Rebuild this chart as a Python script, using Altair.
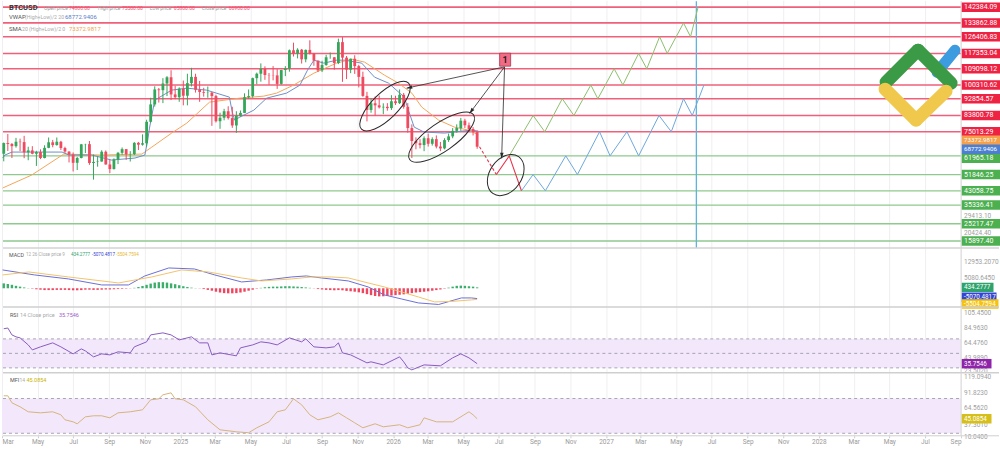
import altair as alt
import pandas as pd

FONT = "Roboto"
W = 960
H_MAIN, H_MACD, H_RSI, H_MFI = 248, 59, 66, 63

# ---------------- weekly BTCUSD candles (thousand USD) ----------------
candle_start = "2024-03-04"
first_open_k = 63.1
close_k = [68.9, 68.4, 67.2, 69.6, 69.4, 63.9, 64.9, 63.1, 64.0, 60.8,
           66.3, 69.3, 67.8, 69.6, 66.2, 64.3, 62.7, 58.2, 60.8, 68.2,
           68.3, 58.1, 58.7, 58.9, 64.2, 57.3, 54.8, 60.0, 63.6, 65.6,
           62.8, 62.9, 69.0, 68.0, 68.8, 80.4, 89.8, 97.9, 97.5, 101.1,
           104.5, 95.2, 93.7, 98.3, 94.5, 101.3, 104.7, 97.7, 96.5, 96.1,
           96.2, 94.3, 80.7, 82.6, 86.1, 82.4, 78.4, 83.7, 85.2, 93.7,
           94.3, 104.0, 106.4, 109.0, 105.7, 105.6, 105.5, 100.9, 108.4, 109.2,
           119.1, 117.3, 119.4, 114.2, 119.3, 117.4, 113.5, 108.2, 111.1, 115.3,
           115.3, 112.2, 123.5, 115.1, 108.6, 114.5, 110.5, 104.7, 94.4, 86.8,
           90.4, 89.3, 88.2, 88.5, 87.8, 91.5, 90.5, 95.0, 88.5, 77.0,
           70.0, 68.8, 67.8, 71.5, 68.5, 71.0, 67.0, 66.0, 70.5, 72.5,
           75.5, 77.0, 81.0, 78.5, 76.5, 74.8, 66.9]
high_k = [69.2, 73.8, 68.9, 71.7, 71.3, 72.8, 66.9, 67.2, 64.7, 65.5,
          67.7, 71.9, 70.6, 71.9, 70.1, 66.9, 64.4, 63.8, 61.4, 68.4,
          68.5, 70.0, 62.7, 61.7, 65.0, 64.9, 59.8, 60.6, 64.1, 66.5,
          65.6, 64.5, 69.4, 69.5, 73.6, 81.5, 93.4, 99.6, 98.7, 104.0,
          105.1, 108.3, 99.9, 99.0, 102.7, 106.4, 109.6, 106.4, 102.5, 98.8,
          99.5, 96.5, 95.0, 85.3, 87.4, 88.8, 88.5, 86.1, 86.5, 95.8,
          97.9, 104.3, 107.0, 112.0, 110.4, 106.8, 110.5, 108.9, 108.5, 110.5,
          119.5, 123.2, 120.2, 119.8, 119.5, 124.5, 117.6, 113.5, 113.4, 116.6,
          117.9, 115.4, 125.4, 126.2, 116.0, 114.6, 116.4, 111.2, 107.5, 96.6,
          93.1, 94.1, 94.6, 90.4, 90.5, 94.8, 94.5, 97.9, 96.0, 90.5,
          79.0, 72.0, 71.0, 72.5, 74.0, 72.0, 73.0, 69.5, 71.5, 74.0,
          77.0, 79.0, 82.5, 82.0, 80.0, 77.5, 75.5]
low_k = [59.0, 64.6, 60.8, 66.4, 64.5, 60.7, 59.6, 62.8, 56.5, 60.2,
         60.6, 66.1, 66.6, 67.5, 65.1, 63.4, 58.4, 53.5, 54.3, 60.6,
         63.5, 57.1, 49.1, 56.1, 58.8, 57.2, 52.6, 54.6, 57.5, 62.6,
         59.8, 58.9, 62.4, 65.1, 67.5, 66.9, 80.0, 88.6, 90.8, 90.5,
         94.3, 92.2, 92.6, 91.2, 89.3, 89.3, 99.5, 96.2, 91.2, 94.0,
         93.4, 78.2, 80.0, 76.6, 81.2, 81.6, 77.1, 74.4, 83.1, 85.1,
         92.8, 93.4, 100.7, 102.1, 103.1, 100.4, 102.8, 98.2, 100.5, 105.1,
         107.5, 115.7, 114.7, 111.9, 112.6, 116.8, 110.7, 107.3, 107.3, 110.7,
         114.5, 108.6, 111.6, 102.0, 103.5, 106.7, 106.3, 99.0, 93.9, 80.6,
         85.3, 83.8, 87.6, 84.5, 86.4, 86.8, 89.5, 90.0, 87.5, 74.5,
         60.8, 65.5, 66.0, 64.5, 67.0, 67.5, 66.0, 64.5, 65.5, 69.5,
         71.5, 74.5, 75.5, 77.0, 75.0, 73.0, 65.8]

# ---------------- overlays on the price chart (thousand USD) ----------------
sma_dates = ["2024-03-02", "2024-04-21", "2024-06-15", "2024-08-19", "2024-10-27", "2024-11-13",
             "2024-12-17", "2025-01-12", "2025-02-20", "2025-04-13", "2025-05-24", "2025-06-15",
             "2025-07-14", "2025-08-18", "2025-09-26", "2025-10-22", "2025-11-13", "2025-12-17",
             "2026-01-10", "2026-02-02", "2026-02-19", "2026-03-20", "2026-04-16", "2026-05-10",
             "2026-05-27"]
sma_k = [44.55, 51.58, 62.93, 62.39, 62.93, 66.71, 74.28, 79.69, 91.04, 93.2, 94.28, 95.9,
         100.22, 106.71, 112.12, 114.28, 112.66, 105.63, 101.31, 95.9, 88.34, 81.31, 77.52,
         75.9, 73.37]
vwap_dates = ["2024-03-02", "2024-03-06", "2024-03-18", "2024-06-12", "2024-06-24", "2024-08-02",
              "2024-09-05", "2024-10-15", "2024-11-01", "2024-11-06", "2024-11-09", "2024-11-18",
              "2024-12-17", "2025-01-12", "2025-02-15", "2025-03-26", "2025-03-31", "2025-04-04",
              "2025-04-13", "2025-05-07", "2025-05-29", "2025-07-02", "2025-07-25", "2025-08-07",
              "2025-08-18", "2025-09-04", "2025-09-26", "2025-10-10", "2025-11-08", "2025-11-30",
              "2025-12-24", "2026-01-20", "2026-01-27", "2026-02-06", "2026-02-23", "2026-03-30",
              "2026-05-15", "2026-05-27"]
vwap_k = [60.77, 62.39, 64.01, 64.01, 62.39, 62.39, 59.69, 60.77, 62.39, 70.5, 76.98, 92.12,
          97.52, 98.6, 97.52, 93.74, 85.63, 81.31, 82.93, 86.7, 93.2, 95.9, 100.22, 108.33,
          113.74, 112.12, 113.74, 113.74, 112.12, 104.55, 101.31, 93.74, 86.7, 77.52, 74.82,
          74.28, 75.9, 75.36]

red_levels = [142384.09, 133862.88, 126406.83, 117353.04, 109098.12, 100310.62, 92854.57,
              83800.78, 75013.29]
green_levels = [61965.18, 51846.25, 43058.75, 35336.41, 25217.47, 15897.40]
price_ticks = [29413.10, 20424.40]
sma_last = 73372.9817
vwap_last = 68772.9406

# ---------------- forecast scenario ----------------
red_dash_dates = ["2026-05-29", "2026-06-27"]
red_dash_vals = [66900, 51846.25]
red_dates = ["2026-06-27", "2026-07-19", "2026-08-09"]
red_vals = [51846.25, 61965.18, 43058.75]
green_dates = ["2026-07-19", "2026-08-29", "2026-09-18", "2026-10-18", "2026-11-07", "2026-12-06",
               "2026-12-18", "2027-01-15", "2027-01-30", "2027-02-26", "2027-03-12", "2027-04-03",
               "2027-04-16", "2027-05-14", "2027-05-26", "2027-06-08"]
green_vals = [61965.18, 83800.78, 75013.29, 92854.57, 83800.78, 100310.62, 92854.57, 109098.12,
              100310.62, 117353.04, 109098.12, 126406.83, 117353.04, 133862.88, 126406.83, 142384.09]
blue_dates = ["2026-08-09", "2026-08-29", "2026-09-19", "2026-10-24", "2026-11-13", "2026-12-21",
              "2027-01-08", "2027-02-06", "2027-02-26", "2027-04-02", "2027-04-23", "2027-05-14",
              "2027-05-29", "2027-06-18"]
blue_vals = [43058.75, 51846.25, 43058.75, 61965.18, 51846.25, 75013.29, 61965.18, 75013.29,
             61965.18, 83800.78, 75013.29, 92854.57, 83800.78, 100310.62]
vline_date = "2027-06-05"

# annotations: ellipses (center date, center price), label "1" and its arrows
ell_dates = ["2025-12-18", "2026-03-25", "2026-07-13"]
ell_vals = [88870, 72120, 51580]
label1_date, label1_val = "2026-07-12", 114000
arrow_start_date, arrow_start_val = "2026-07-11", 110100
arrow_end_dates = ["2026-01-24", "2026-05-12", "2026-07-06"]
arrow_end_vals = [98600, 84930, 60600]

# ---------------- MACD 12 26 9 ----------------
macd_hist = [2400, 2100, 1700, 1200, 800, 400, 100, -200, -500, -700,
             -900, -900, -900, -800, -800, -800, -900, -1000, -1000, -900,
             -700, -700, -800, -800, -700, -600, -600, -500, -400, -300,
             -200, -100, 200, 600, 1100, 1700, 2300, 2800, 3000, 3000,
             2800, 2400, 2000, 1500, 1000, 600, 300, 100, -100, -400,
             -800, -1200, -1700, -2100, -2400, -2500, -2500, -2400, -2100, -1700,
             -1200, -700, -200, 200, 500, 700, 800, 800, 900, 1000,
             1000, 900, 800, 600, 400, 200, -100, -400, -600, -800,
             -900, -1000, -900, -1000, -1300, -1500, -1700, -2000, -2400, -2900,
             -3400, -3800, -4000, -3950, -3800, -3600, -3400, -3200, -3000, -2700,
             -2400, -2100, -1900, -1700, -1500, -1200, -900, -600, -200, 300,
             800, 1200, 1300, 1200, 1000, 800, 434.2777]
macd_dates = ["2024-03-02", "2024-04-26", "2024-06-23", "2024-08-19", "2024-10-04", "2024-11-01",
              "2024-12-12", "2025-01-25", "2025-03-01", "2025-04-16", "2025-05-29", "2025-07-11",
              "2025-08-05", "2025-08-31", "2025-10-16", "2025-11-19", "2025-12-17", "2026-01-15",
              "2026-02-13", "2026-03-20", "2026-04-28", "2026-05-15", "2026-05-25"]
macd_vals = [9018, 6557, 4589, 1636, 1636, 6065, 10002, 9510, 6557, 3112, 4097, 5573, 6065,
             5080, 3604, 651, -3285, -5254, -7222, -8000, -4761, -4761, -5070.4817]
signal_dates = ["2024-03-02", "2024-04-16", "2024-06-23", "2024-09-17", "2024-11-13", "2025-01-03",
                "2025-02-18", "2025-04-16", "2025-05-20", "2025-07-11", "2025-08-14", "2025-09-17",
                "2025-10-16", "2025-11-19", "2025-12-17", "2026-01-15", "2026-02-13", "2026-03-13",
                "2026-04-11", "2026-05-15", "2026-05-25"]
signal_vals = [6557, 8033, 5573, 2620, 5573, 9018, 8033, 5080, 3604, 4589, 5573, 5573, 5080,
               2620, 651, -1809, -4269, -6730, -6484, -5746, -5504.7594]
macd_ticks = [12953.2070, 5080.6450]

# ---------------- RSI 14 ----------------
rsi_dates = ["2024-03-04", "2024-03-11", "2024-03-18", "2024-03-25", "2024-04-01", "2024-04-15",
             "2024-04-22", "2024-05-06", "2024-05-27", "2024-06-10", "2024-07-01", "2024-07-15",
             "2024-07-22", "2024-08-05", "2024-08-19", "2024-09-02", "2024-09-16", "2024-10-07",
             "2024-10-14", "2024-11-04", "2024-11-11", "2024-12-02", "2024-12-16", "2024-12-30",
             "2025-01-20", "2025-02-03", "2025-02-17", "2025-02-24", "2025-03-10", "2025-04-07",
             "2025-04-14", "2025-05-05", "2025-05-19", "2025-06-02", "2025-06-16", "2025-07-07",
             "2025-07-28", "2025-08-04", "2025-08-18", "2025-09-08", "2025-09-22", "2025-09-29",
             "2025-10-06", "2025-10-20", "2025-11-17", "2025-11-24", "2025-12-15", "2026-01-12",
             "2026-01-19", "2026-01-26", "2026-02-02", "2026-02-23", "2026-03-23", "2026-04-13",
             "2026-04-27", "2026-05-11", "2026-05-25"]
rsi_vals = [84.0, 85.0, 75.5, 72.8, 71.4, 61.7, 54.8, 59.0, 64.5, 59.0, 49.3, 56.2, 53.4, 45.2,
            49.3, 47.9, 52.1, 50.7, 59.0, 65.9, 75.5, 78.3, 75.5, 68.6, 72.8, 64.5, 64.5, 47.9,
            50.7, 46.6, 57.6, 61.7, 65.9, 64.5, 61.7, 71.4, 65.9, 70.0, 59.0, 57.6, 59.0, 64.5,
            50.7, 47.9, 36.9, 38.3, 34.1, 45.2, 38.3, 30.0, 27.2, 34.1, 32.8, 43.8, 49.3, 43.8,
            35.7546]
rsi_ticks = [105.4500, 84.9630, 64.4760, 43.9890, 23.5020]

# ---------------- MFI 14 ----------------
mfi_dates = ["2024-03-04", "2024-03-11", "2024-03-18", "2024-03-25", "2024-04-01", "2024-04-15",
             "2024-05-06", "2024-05-27", "2024-06-10", "2024-06-17", "2024-07-01", "2024-07-08",
             "2024-07-22", "2024-08-05", "2024-08-19", "2024-09-02", "2024-09-16", "2024-10-07",
             "2024-10-28", "2024-11-11", "2024-11-25", "2024-12-02", "2024-12-16", "2024-12-23",
             "2025-01-06", "2025-01-27", "2025-02-17", "2025-03-10", "2025-04-07", "2025-04-28",
             "2025-05-12", "2025-06-02", "2025-06-16", "2025-06-30", "2025-07-14", "2025-07-28",
             "2025-08-11", "2025-08-25", "2025-09-15", "2025-09-29", "2025-10-13", "2025-10-27",
             "2025-11-10", "2025-12-01", "2025-12-15", "2026-01-12", "2026-01-26", "2026-02-16",
             "2026-02-23", "2026-03-16", "2026-04-13", "2026-05-11", "2026-05-18", "2026-05-25"]
mfi_vals = [84.7, 84.7, 72.6, 69.1, 65.7, 57.1, 55.3, 57.1, 51.9, 43.3, 39.8, 36.4, 48.4, 50.2,
            50.2, 46.7, 55.3, 57.1, 60.5, 77.8, 79.5, 86.4, 89.8, 79.5, 77.8, 65.7, 43.3, 26.0,
            22.6, 20.9, 29.5, 39.8, 57.1, 60.5, 79.5, 69.1, 51.9, 43.3, 48.4, 55.3, 46.7, 38.1,
            29.5, 36.4, 31.2, 34.7, 29.5, 34.7, 46.7, 39.8, 39.8, 57.1, 51.9, 45.0854]
mfi_ticks = [119.0940, 91.8230, 64.5620, 37.3010, 10.0400]

# ====================================================================
UP, DOWN = "#34a65a", "#ef4a60"
DUMMY = pd.DataFrame({"a": [0]})

XS = alt.Scale(type="utc", domain=[alt.DateTime(year=2024, month=3, date=1, utc=True),
                                   alt.DateTime(year=2028, month=9, date=1, utc=True)])
tick_vals = []
yy, mm = 2024, 3
while (yy, mm) <= (2028, 9):
    tick_vals.append(alt.DateTime(year=yy, month=mm, date=1, utc=True))
    mm += 2
    if mm > 12:
        mm -= 12
        yy += 1

XAX_GRID = alt.Axis(values=tick_vals, grid=True, labels=False, ticks=False, domain=False,
                    title=None, gridColor="#efeff1", gridWidth=1)
XAX_BOTTOM = alt.Axis(values=tick_vals, grid=True, gridColor="#efeff1", title=None,
                      labelExpr="utcFormat(datum.value,'%m')=='01' ? utcFormat(datum.value,'%Y') : utcFormat(datum.value,'%b')",
                      labelFontSize=6.5, labelColor="#9a9a9a", labelFont=FONT, tickSize=2,
                      tickColor="#cccccc", domain=False, labelPadding=1, labelFlush=True,
                      labelOverlap=False)

YP = alt.Scale(domain=[12120, 146170], nice=False, zero=False)
YM = alt.Scale(domain=[-9191, 19845], nice=False, zero=False)
YR = alt.Scale(domain=[23.10, 114.14], nice=False, zero=False)
YF = alt.Scale(domain=[15.69, 124.31], nice=False, zero=False)


def X(field, axis=XAX_GRID):
    return alt.X(field, scale=XS, axis=axis)


def txt(x, y, s, size=5.0, color="#9b9b9b", weight="normal"):
    return alt.Chart(DUMMY).mark_text(text=s, fontSize=size, color=color, fontWeight=weight,
                                      align="left", baseline="middle", font=FONT).encode(
        x=alt.value(x), y=alt.value(y))


def seg(x1, y1, x2, y2, color, w=1.0, cap="butt"):
    return alt.Chart(DUMMY).mark_rule(color=color, strokeWidth=w, strokeCap=cap).encode(
        x=alt.value(x1), y=alt.value(y1), x2=alt.value(x2), y2=alt.value(y2))


def box_path(w):
    ww = w / 5.0
    return f"M0,-0.95L{ww:.3f},-0.95L{ww:.3f},0.95L0,0.95Z"


def right_labels(values, texts, fills, yscale, width, off=0.0, size=7.0, tcolor="white"):
    df = pd.DataFrame({"v": values, "label": texts, "fill": fills})
    b = alt.Chart(df).mark_point(shape=box_path(width), size=100, filled=True, opacity=1,
                                 yOffset=off).encode(
        x=alt.value(960.5), y=alt.Y("v:Q", scale=yscale, axis=None),
        color=alt.Color("fill:N", scale=None))
    t = alt.Chart(df).mark_text(align="left", baseline="middle", fontSize=size, font=FONT,
                                color=tcolor, yOffset=off).encode(
        x=alt.value(963), y=alt.Y("v:Q", scale=yscale, axis=None), text="label:N")
    return [b, t]


def gray_labels(values, texts, yscale, size=6.5, off=0.0):
    df = pd.DataFrame({"v": values, "label": texts})
    return alt.Chart(df).mark_text(align="left", baseline="middle", fontSize=size, font=FONT,
                                   color="#a0a0a0", yOffset=off).encode(
        x=alt.value(963), y=alt.Y("v:Q", scale=yscale, axis=None), text="label:N")


def line_df(dates, vals, scale=1.0):
    return pd.DataFrame({"date": dates, "v": [v * scale for v in vals]})


# ---------------- price panel ----------------
weeks = pd.date_range(candle_start, periods=len(close_k), freq="7D").strftime("%Y-%m-%d")
opens_k = [first_open_k] + close_k[:-1]
cdf = pd.DataFrame({
    "date": list(weeks),
    "open": [v * 1000 for v in opens_k],
    "close": [v * 1000 for v in close_k],
    "high": [v * 1000 for v in high_k],
    "low": [v * 1000 for v in low_k],
})
cdf["col"] = [UP if c >= o else DOWN for o, c in zip(cdf["open"], cdf["close"])]

red_lines = alt.Chart(pd.DataFrame({"v": red_levels})).mark_rule(
    color="#f0607a", strokeWidth=1.7).encode(
    y=alt.Y("v:Q", scale=YP, axis=None), x=alt.value(1), x2=alt.value(960))
green_lines = alt.Chart(pd.DataFrame({"v": green_levels})).mark_rule(
    color="#8fc98f", strokeWidth=1.3).encode(
    y=alt.Y("v:Q", scale=YP, axis=None), x=alt.value(1), x2=alt.value(960))

vline = alt.Chart(pd.DataFrame({"date": [vline_date]})).mark_rule(
    color="#5fb3df", strokeWidth=1.3).encode(x=X("date:T"), y=alt.value(1), y2=alt.value(H_MAIN))

sma = alt.Chart(line_df(sma_dates, sma_k, 1000)).mark_line(color="#f2a65a", strokeWidth=1).encode(
    x=X("date:T"), y=alt.Y("v:Q", scale=YP, axis=None))
vwap = alt.Chart(line_df(vwap_dates, vwap_k, 1000)).mark_line(color="#6d8fc7", strokeWidth=1).encode(
    x=X("date:T"), y=alt.Y("v:Q", scale=YP, axis=None))

wick = alt.Chart(cdf).mark_rule(strokeWidth=1).encode(
    x=X("date:T"), y=alt.Y("low:Q", scale=YP, axis=None), y2="high:Q",
    color=alt.Color("col:N", scale=None))
body = alt.Chart(cdf).mark_rule(strokeWidth=2.8).encode(
    x=X("date:T"), y=alt.Y("open:Q", scale=YP, axis=None), y2="close:Q",
    color=alt.Color("col:N", scale=None))


def fline(dates, vals, color, dash=None, w=1.1):
    kw = dict(color=color, strokeWidth=w)
    if dash:
        kw["strokeDash"] = dash
    return alt.Chart(line_df(dates, vals)).mark_line(**kw).encode(
        x=X("date:T"), y=alt.Y("v:Q", scale=YP, axis=None))


f_green = fline(green_dates, green_vals, "#8cbf6e", w=1.0)
f_blue = fline(blue_dates, blue_vals, "#6ea8dc", w=1.0)
f_red_d = fline(red_dash_dates, red_dash_vals, "#e8344e", dash=[3, 2])
f_red = fline(red_dates, red_vals, "#e8344e")


def ellipse_path(r):
    k = 0.5523
    a = r * k
    return (f"M-1,0C-1,{-a:.4f},{-k},{-r:.4f},0,{-r:.4f}"
            f"C{k},{-r:.4f},1,{-a:.4f},1,0"
            f"C1,{a:.4f},{k},{r:.4f},0,{r:.4f}"
            f"C{-k},{r:.4f},-1,{a:.4f},-1,0Z")


edf = pd.DataFrame({"date": ell_dates, "v": ell_vals,
                    "path": [ellipse_path(0.39), ellipse_path(0.36), ellipse_path(0.71)],
                    "size": [66 ** 2, 78 ** 2, 45 ** 2],
                    "angle": [315.6, 325, 305]})
ellipses = alt.Chart(edf).mark_point(filled=False, color="#2a2a2a", strokeWidth=1, opacity=1).encode(
    x=X("date:T"), y=alt.Y("v:Q", scale=YP, axis=None),
    shape=alt.Shape("path:N", scale=None), size=alt.Size("size:Q", scale=None),
    angle=alt.Angle("angle:Q", scale=None))

adf = pd.DataFrame({"date": [arrow_start_date] * 3, "v": [arrow_start_val] * 3,
                    "date2": arrow_end_dates, "v2": arrow_end_vals,
                    "angle": [257.4, 216.9, 182.0]})
arrows = alt.Chart(adf).mark_rule(color="#2a2a2a", strokeWidth=0.8).encode(
    x=X("date:T"), x2="date2:T", y=alt.Y("v:Q", scale=YP, axis=None), y2="v2:Q")
heads = alt.Chart(adf).mark_point(shape="M0,0L-0.45,1.4L0.45,1.4Z", size=64, filled=True,
                                  color="#2a2a2a", opacity=1).encode(
    x=X("date2:T"), y=alt.Y("v2:Q", scale=YP, axis=None), angle=alt.Angle("angle:Q", scale=None))

l1 = pd.DataFrame({"date": [label1_date], "v": [label1_val]})
box1 = alt.Chart(l1).mark_point(shape="M-0.85,-1L0.85,-1L0.85,1L-0.85,1Z", size=169, filled=True,
                                fill="#f26b85", stroke="#a8354d", strokeWidth=0.8, opacity=1).encode(
    x=X("date:T"), y=alt.Y("v:Q", scale=YP, axis=None))
txt1 = alt.Chart(l1).mark_text(text="1", fontSize=9, fontWeight="bold", color="#1e1e1e", font=FONT,
                               align="center", baseline="middle").encode(
    x=X("date:T"), y=alt.Y("v:Q", scale=YP, axis=None))

# legend text on the price panel
last = cdf.iloc[-1]
ohlc_names = ["Open price", "High price", "Low price", "Close price"]
ohlc_vals = [last["open"], last["high"], last["low"], last["close"]]
name_x = [42, 96, 148, 200]
val_x = [67, 120, 172, 227]
legend = [txt(7, 7.5, "BTCUSD", 7.5, "#333333", "bold")]
for nm, vv, nx, vx in zip(ohlc_names, ohlc_vals, name_x, val_x):
    legend.append(txt(nx, 8, nm, 5, "#9b9b9b"))
    legend.append(txt(vx, 8, f"{vv:.2f}", 5, "#f0506e"))
legend += [txt(7, 16.5, "VWAP", 6, "#555555"), txt(23, 16.5, "(High+Low)/2 20", 5.2, "#a9a9a9"),
           txt(63, 16.5, f"{vwap_last:.4f}", 6, "#5b7ec9"),
           txt(7, 29, "SMA", 6, "#555555"), txt(20, 29, "20 (High+Low)/2 0", 5.2, "#a9a9a9"),
           txt(67, 29, f"{sma_last:.4f}", 6, "#f0a050")]

main_labels = [gray_labels(price_ticks, [f"{v:.2f}" for v in price_ticks], YP)]
normal = [v for v in red_levels + green_levels if v != 61965.18]
main_labels += right_labels(normal, [f"{v:.2f}" for v in normal],
                            ["#ee2344" if v in red_levels else "#4caf50" for v in normal], YP, 38.5)
main_labels += right_labels([61965.18], ["61965.18"], ["#4caf50"], YP, 38.5, off=2.5)
main_labels += right_labels([sma_last], [f"{sma_last:.4f}"], ["#f5a04a"], YP, 38.5, off=5.5, size=6.2)
main_labels += right_labels([vwap_last], [f"{vwap_last:.4f}"], ["#4d7fd1"], YP, 38.5, off=6, size=6.2)

logo = [seg(936, 72, 954, 50, "#3d9be0", 11, "round"),
        seg(885, 82, 917, 50, "#3b9a45", 13, "round"),
        seg(917, 50, 950, 83, "#3b9a45", 13, "round"),
        seg(884, 89, 915, 120, "#f0c94c", 13, "round"),
        seg(915, 120, 945, 91, "#f0c94c", 13, "round")]

p_main = alt.layer(
    red_lines, green_lines, vline, sma, vwap, wick, body, f_green, f_blue, f_red_d, f_red,
    ellipses, arrows, heads, box1, txt1, *legend, *main_labels, *logo,
    seg(960, 1, 960, H_MAIN, "#d9d9d9", 1)
).properties(width=W, height=H_MAIN)

# ---------------- MACD panel ----------------
hdf = pd.DataFrame({"date": list(weeks), "v": macd_hist})
hdf["col"] = ["#3aae6a" if v >= 0 else "#f0455e" for v in macd_hist]
hist = alt.Chart(hdf).mark_rule(strokeWidth=2.4).encode(
    x=X("date:T"), y=alt.Y("v:Q", scale=YM, axis=None), y2=alt.datum(0),
    color=alt.Color("col:N", scale=None))
macd_l = alt.Chart(line_df(macd_dates, macd_vals)).mark_line(color="#6b6fd6", strokeWidth=1).encode(
    x=X("date:T"), y=alt.Y("v:Q", scale=YM, axis=None))
sig_l = alt.Chart(line_df(signal_dates, signal_vals)).mark_line(color="#f2c46b", strokeWidth=1).encode(
    x=X("date:T"), y=alt.Y("v:Q", scale=YM, axis=None))
macd_labels = [gray_labels(macd_ticks, [f"{v:.4f}" for v in macd_ticks], YM)]
macd_labels += right_labels([macd_hist[-1]], [f"{macd_hist[-1]:.4f}"], ["#2ea36d"], YM, 32, size=6.3)
macd_labels += right_labels([macd_vals[-1]], [f"{macd_vals[-1]:.4f}"], ["#3346d3"], YM, 35, off=-1.3, size=6.3)
macd_labels += right_labels([signal_vals[-1]], [f"{signal_vals[-1]:.4f}"], ["#f5c211"], YM, 37, off=4.5, size=6.3)
p_macd = alt.layer(
    hist, macd_l, sig_l,
    txt(7, 7, "MACD", 5.3, "#555555"), txt(24, 7, "12 26 Close price 9", 4.6, "#a9a9a9"),
    txt(69, 7, f"{macd_hist[-1]:.4f}", 4.6, "#2ea36d"), txt(90, 7, f"{macd_vals[-1]:.4f}", 4.6, "#3346d3"),
    txt(114, 7, f"{signal_vals[-1]:.4f}", 4.6, "#e8b730"),
    *macd_labels,
    seg(1, 0, 998, 0, "#d3d3d3", 1.5), seg(960, 0, 960, H_MACD, "#d9d9d9", 1)
).properties(width=W, height=H_MACD)

# ---------------- RSI panel ----------------
band_r = alt.Chart(DUMMY).mark_rect(color="#f2e7fb").encode(
    x=alt.value(0), x2=alt.value(960),
    y=alt.YDatum(70, type="quantitative", scale=YR, axis=None), y2=alt.datum(30))
dash_r = alt.Chart(pd.DataFrame({"v": [70, 50, 30]})).mark_rule(
    color="#aaa3b6", strokeDash=[3, 3], strokeWidth=1).encode(
    y=alt.Y("v:Q", scale=YR, axis=None), x=alt.value(1), x2=alt.value(960))
rsi_l = alt.Chart(line_df(rsi_dates, rsi_vals)).mark_line(color="#8a5cc0", strokeWidth=1).encode(
    x=X("date:T"), y=alt.Y("v:Q", scale=YR, axis=None))
rsi_labels = [gray_labels(rsi_ticks[:-1], [f"{v:.4f}" for v in rsi_ticks[:-1]], YR),
              gray_labels(rsi_ticks[-1:], [f"{v:.4f}" for v in rsi_ticks[-1:]], YR, off=-2)]
rsi_labels += right_labels([rsi_vals[-1]], [f"{rsi_vals[-1]:.4f}"], ["#8e24aa"], YR, 30, size=6.3)
p_rsi = alt.layer(
    band_r, dash_r, rsi_l,
    txt(8, 8, "RSI", 5.5, "#555555"), txt(18, 8, "14 Close price", 5.5, "#a9a9a9"),
    txt(57, 8, f"{rsi_vals[-1]:.4f}", 5.5, "#a05cc8"),
    *rsi_labels,
    seg(1, 0, 998, 0, "#cfcfcf", 1.5), seg(960, 0, 960, H_RSI, "#d9d9d9", 1)
).properties(width=W, height=H_RSI)

# ---------------- MFI panel ----------------
band_f = alt.Chart(DUMMY).mark_rect(color="#f2e7fb").encode(
    x=alt.value(0), x2=alt.value(960),
    y=alt.YDatum(80, type="quantitative", scale=YF, axis=None), y2=alt.datum(20))
dash_f = alt.Chart(pd.DataFrame({"v": [80, 20]})).mark_rule(
    color="#aaa3b6", strokeDash=[3, 3], strokeWidth=1).encode(
    y=alt.Y("v:Q", scale=YF, axis=None), x=alt.value(1), x2=alt.value(960))
mfi_l = alt.Chart(line_df(mfi_dates, mfi_vals)).mark_line(color="#d6b47c", strokeWidth=1).encode(
    x=X("date:T", XAX_BOTTOM), y=alt.Y("v:Q", scale=YF, axis=None))
mfi_labels = [gray_labels(mfi_ticks[:1], [f"{v:.4f}" for v in mfi_ticks[:1]], YF, off=1.5),
              gray_labels(mfi_ticks[1:3], [f"{v:.4f}" for v in mfi_ticks[1:3]], YF, off=1),
              gray_labels(mfi_ticks[3:4], [f"{v:.4f}" for v in mfi_ticks[3:4]], YF, off=2),
              gray_labels(mfi_ticks[4:], [f"{v:.4f}" for v in mfi_ticks[4:]], YF, off=-2)]
mfi_labels += right_labels([mfi_vals[-1]], [f"{mfi_vals[-1]:.4f}"], ["#d6bf1a"], YF, 30, size=6.3)
p_mfi = alt.layer(
    band_f, dash_f, mfi_l,
    txt(8, 7, "MFI", 5.5, "#555555"), txt(17.5, 7, "14", 5, "#a9a9a9"),
    txt(24.5, 7, f"{mfi_vals[-1]:.4f}", 5.5, "#c9b400"),
    *mfi_labels,
    seg(1, 0, 998, 0, "#cfcfcf", 1.5), seg(1, H_MFI, 998, H_MFI, "#cfcfcf", 1),
    seg(960, 0, 960, H_MFI, "#d9d9d9", 1)
).properties(width=W, height=H_MFI)

chart = alt.vconcat(p_main, p_macd, p_rsi, p_mfi, spacing=0, bounds="flush").properties(
    padding=0, background="white"
).configure_view(stroke=None)

chart.save("out.html", embed_options={"renderer": "svg", "actions": False})
